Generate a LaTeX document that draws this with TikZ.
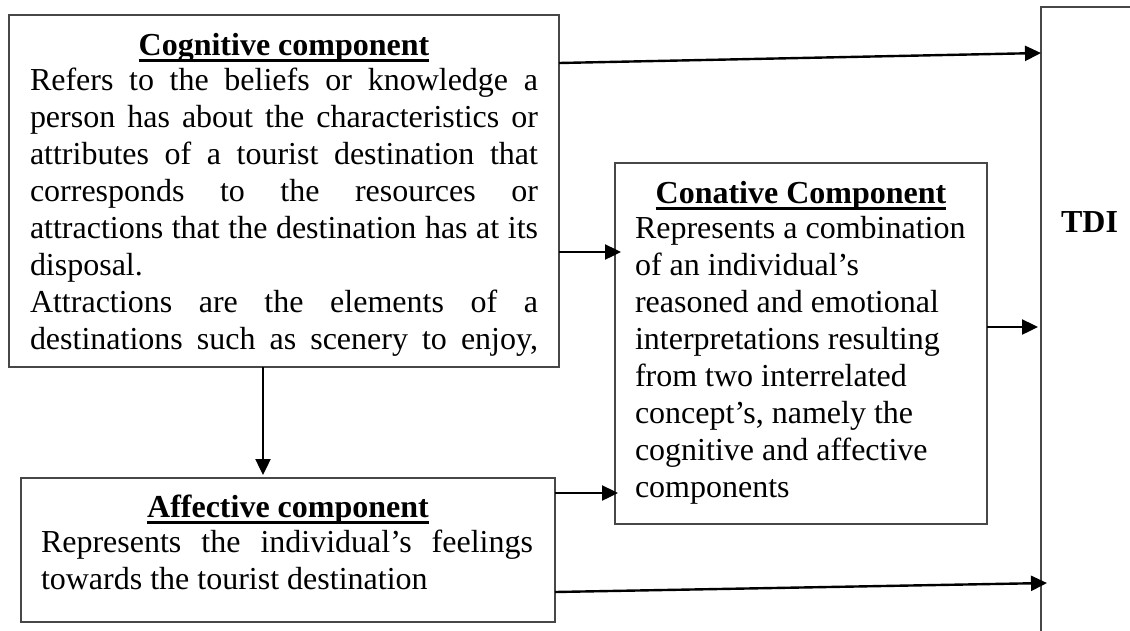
\documentclass[tikz,border=0pt]{standalone}
\usepackage{fontspec}
\setmainfont{Liberation Serif}
\usetikzlibrary{arrows.meta,calc}
% bold heading with a word-processor style underline through the descenders
\newcommand\headline[1]{\setbox0\hbox{\bfseries #1}\rlap{\rule[-6.5pt]{\wd0}{2.2pt}}\box0}
% a fully justified line of given width
\newcommand\jline[2]{\makebox[#1][s]{#2}}

\begin{document}
\begin{tikzpicture}[x=1pt,y=-1pt,
  box/.style={draw=black!72, line width=1.1pt, inner sep=0pt, outer sep=0pt, anchor=north west},
  txt/.style={inner sep=0pt, outer sep=0pt, font=\fontsize{32}{37}\selectfont},
  link/.style={draw=black, line width=2.4pt, -{Triangle[length=16pt,width=15pt]}}]
\useasboundingbox (0,0) rectangle (1130,630);
\clip (0,0) rectangle (1130,630);
\fill[white] (0,0) rectangle (1130,630);

% frames
\node[box, minimum width=550pt, minimum height=352pt] (cog) at (9,15) {};
\node[box, minimum width=534pt, minimum height=144pt] (aff) at (21,478) {};
\node[box, minimum width=372pt, minimum height=361pt] (con) at (615,163) {};
\node[box, minimum width=140pt, minimum height=660pt] (tdi) at (1041,7) {};

% cognitive component
\node[txt, anchor=base] (cogtitle) at (284,55) {\headline{Cognitive component}};
\node[txt, anchor=base west] (cogbody) at (30,90) {\parbox[t]{508pt}{\fontsize{32}{37}\selectfont
\jline{508pt}{Refers to the beliefs or knowledge a}\\
\jline{508pt}{person has about the characteristics or}\\
\jline{508pt}{attributes of a tourist destination that}\\
\jline{508pt}{corresponds to the resources or}\\
\jline{508pt}{attractions that the destination has at its}\\
disposal.\\
\jline{508pt}{Attractions are the elements of a}\\
\jline{508pt}{destinations such as scenery to enjoy,}}};

% affective component
\node[txt, anchor=base] (afftitle) at (288,517) {\headline{Affective component}};
\node[txt, anchor=base west] (affbody) at (41,552) {\parbox[t]{492pt}{\fontsize{32}{37}\selectfont
\jline{492pt}{Represents the individual’s feelings}\\
towards the tourist destination}};

% conative component
\node[txt, anchor=base] (contitle) at (801,203) {\headline{Conative Component}};
\node[txt, anchor=base west] (conbody) at (635,238) {\parbox[t]{345pt}{\fontsize{32}{37}\selectfont
Represents a combination\\
of an individual’s\\
reasoned and emotional\\
interpretations resulting\\
from two interrelated\\
concept’s, namely the\\
cognitive and affective\\
components}};

% outcome
\node[txt, anchor=base] (tdilabel) at (1089.5,232) {\bfseries TDI};

% connectors
\draw[link] ([yshift=-48pt]cog.north east) -- ([yshift=-46pt]tdi.north west);
\draw[link] ([yshift=-237pt]cog.north east) -- ([xshift=6pt,yshift=-89pt]con.north west);
\draw[link] ([xshift=254pt]cog.south west) -- ([xshift=242pt,yshift=3pt]aff.north west);
\draw[link] ([yshift=-15pt]aff.north east) -- ([xshift=3pt,yshift=-330pt]con.north west);
\draw[link] ([yshift=-164pt]con.north east) -- ([xshift=-3pt,yshift=-320pt]tdi.north west);
\draw[link] ([yshift=-114pt]aff.north east) -- ([xshift=6pt,yshift=-576pt]tdi.north west);
\end{tikzpicture}
\end{document}
